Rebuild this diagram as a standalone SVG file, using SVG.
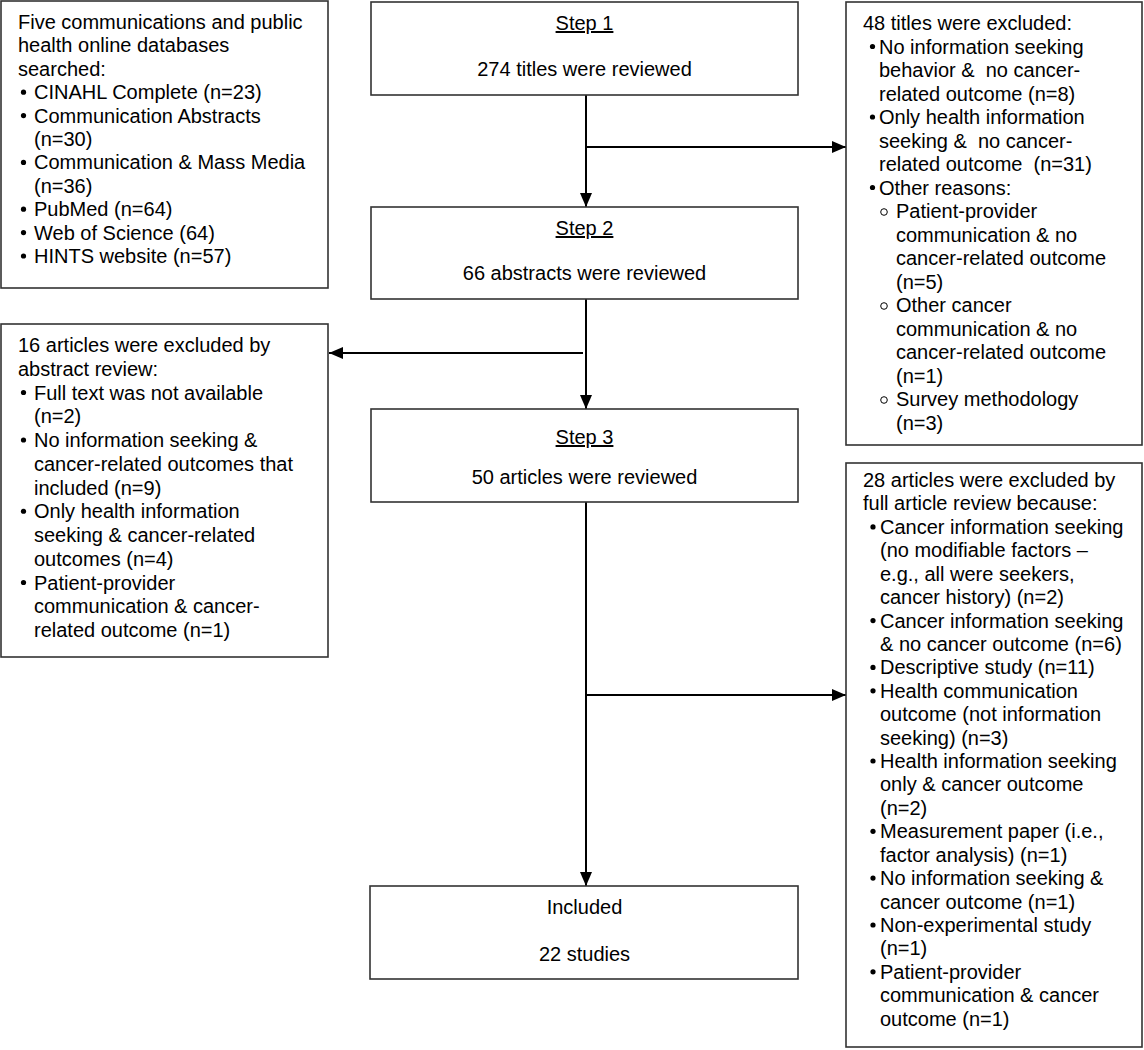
<svg xmlns="http://www.w3.org/2000/svg" width="1144" height="1050" viewBox="0 0 1144 1050">
<defs>
<style>
.box{fill:#fff;stroke:#333;stroke-width:1.6}
.t{font-family:"Liberation Sans",Arial,sans-serif;font-size:20px;fill:#000;white-space:pre}
.c{text-anchor:middle}
.u{text-decoration:underline}
.b{fill:#000}
.o{fill:none;stroke:#000;stroke-width:1}
.ln{stroke:#000;stroke-width:2;fill:none}
</style>
<marker id="ah" markerUnits="userSpaceOnUse" markerWidth="14" markerHeight="14" viewBox="0 0 14 12" refX="14" refY="6" orient="auto">
<path d="M0,0 L14,6 L0,12 Z" fill="#000"/>
</marker>
</defs>
<rect width="1144" height="1050" fill="#fff"/>

<g id="connectors">
<line class="ln" x1="586" y1="95" x2="586" y2="207" marker-end="url(#ah)"/>
<line class="ln" x1="586" y1="147" x2="846" y2="147" marker-end="url(#ah)"/>
<line class="ln" x1="586" y1="299" x2="586" y2="409" marker-end="url(#ah)"/>
<line class="ln" x1="583" y1="353" x2="329" y2="353" marker-end="url(#ah)"/>
<line class="ln" x1="586" y1="502" x2="586" y2="886" marker-end="url(#ah)"/>
<line class="ln" x1="586" y1="695" x2="846" y2="695" marker-end="url(#ah)"/>
</g>

<g id="databases">
<rect class="box" x="1" y="1" width="327" height="287"/>
<text class="t" x="18" y="29">Five communications and public</text>
<text class="t" x="18" y="52.4">health online databases</text>
<text class="t" x="18" y="75.8">searched:</text>
<circle class="b" cx="23.5" cy="92.2" r="2.6"/><text class="t" x="34" y="99.2">CINAHL Complete (n=23)</text>
<circle class="b" cx="23.5" cy="115.6" r="2.6"/><text class="t" x="34" y="122.6">Communication Abstracts</text>
<text class="t" x="34" y="146">(n=30)</text>
<circle class="b" cx="23.5" cy="162.4" r="2.6"/><text class="t" x="34" y="169.4">Communication &amp; Mass Media</text>
<text class="t" x="34" y="192.8">(n=36)</text>
<circle class="b" cx="23.5" cy="209.2" r="2.6"/><text class="t" x="34" y="216.2">PubMed (n=64)</text>
<circle class="b" cx="23.5" cy="232.6" r="2.6"/><text class="t" x="34" y="239.6">Web of Science (64)</text>
<circle class="b" cx="23.5" cy="256" r="2.6"/><text class="t" x="34" y="263">HINTS website (n=57)</text>
</g>

<g id="step1">
<rect class="box" x="371" y="2" width="427" height="93"/>
<text class="t c u" x="584.5" y="30">Step 1</text>
<text class="t c" x="584.5" y="76">274 titles were reviewed</text>
</g>

<g id="step2">
<rect class="box" x="371" y="207" width="427" height="92"/>
<text class="t c u" x="584.5" y="235">Step 2</text>
<text class="t c" x="584.5" y="280">66 abstracts were reviewed</text>
</g>

<g id="step3">
<rect class="box" x="371" y="409" width="427" height="93"/>
<text class="t c u" x="584.5" y="444">Step 3</text>
<text class="t c" x="584.5" y="484">50 articles were reviewed</text>
</g>

<g id="included">
<rect class="box" x="370" y="886" width="428" height="93"/>
<text class="t c" x="584.5" y="914">Included</text>
<text class="t c" x="584.5" y="961">22 studies</text>
</g>

<g id="titles-excluded">
<rect class="box" x="846" y="2" width="296" height="443"/>
<text class="t" x="863" y="30">48 titles were excluded:</text>
<circle class="b" cx="872.5" cy="46.5" r="2.6"/><text class="t" x="879" y="53.5">No information seeking</text>
<text class="t" x="879" y="77">behavior &amp;  no cancer-</text>
<text class="t" x="879" y="100.5">related outcome (n=8)</text>
<circle class="b" cx="872.5" cy="117" r="2.6"/><text class="t" x="879" y="124">Only health information</text>
<text class="t" x="879" y="147.5">seeking &amp;  no cancer-</text>
<text class="t" x="879" y="171">related outcome  (n=31)</text>
<circle class="b" cx="872.5" cy="187.5" r="2.6"/><text class="t" x="879" y="194.5">Other reasons:</text>
<circle class="o" cx="884" cy="212" r="3.3"/><text class="t" x="896" y="218">Patient-provider</text>
<text class="t" x="896" y="241.5">communication &amp; no</text>
<text class="t" x="896" y="265">cancer-related outcome</text>
<text class="t" x="896" y="288.5">(n=5)</text>
<circle class="o" cx="884" cy="306" r="3.3"/><text class="t" x="896" y="312">Other cancer</text>
<text class="t" x="896" y="335.5">communication &amp; no</text>
<text class="t" x="896" y="359">cancer-related outcome</text>
<text class="t" x="896" y="382.5">(n=1)</text>
<circle class="o" cx="884" cy="400" r="3.3"/><text class="t" x="896" y="406">Survey methodology</text>
<text class="t" x="896" y="429.5">(n=3)</text>
</g>

<g id="abstracts-excluded">
<rect class="box" x="1" y="324" width="327" height="333"/>
<text class="t" x="18" y="352">16 articles were excluded by</text>
<text class="t" x="18" y="375.75">abstract review:</text>
<circle class="b" cx="23.5" cy="392.5" r="2.6"/><text class="t" x="34" y="399.5">Full text was not available</text>
<text class="t" x="34" y="423.25">(n=2)</text>
<circle class="b" cx="23.5" cy="440" r="2.6"/><text class="t" x="34" y="447">No information seeking &amp;</text>
<text class="t" x="34" y="470.75">cancer-related outcomes that</text>
<text class="t" x="34" y="494.5">included (n=9)</text>
<circle class="b" cx="23.5" cy="511.25" r="2.6"/><text class="t" x="34" y="518.25">Only health information</text>
<text class="t" x="34" y="542">seeking &amp; cancer-related</text>
<text class="t" x="34" y="565.75">outcomes (n=4)</text>
<circle class="b" cx="23.5" cy="582.5" r="2.6"/><text class="t" x="34" y="589.5">Patient-provider</text>
<text class="t" x="34" y="613.25">communication &amp; cancer-</text>
<text class="t" x="34" y="637">related outcome (n=1)</text>
</g>

<g id="articles-excluded">
<rect class="box" x="846" y="463" width="296" height="584"/>
<text class="t" x="863" y="487">28 articles were excluded by</text>
<text class="t" x="863" y="510.4">full article review because:</text>
<circle class="b" cx="873" cy="526.9" r="2.6"/><text class="t" x="880" y="533.9">Cancer information seeking</text>
<text class="t" x="880" y="557.3">(no modifiable factors –</text>
<text class="t" x="880" y="580.7">e.g., all were seekers,</text>
<text class="t" x="880" y="604.1">cancer history) (n=2)</text>
<circle class="b" cx="873" cy="620.6" r="2.6"/><text class="t" x="880" y="627.6">Cancer information seeking</text>
<text class="t" x="880" y="651">&amp; no cancer outcome (n=6)</text>
<circle class="b" cx="873" cy="667.4" r="2.6"/><text class="t" x="880" y="674.4">Descriptive study (n=11)</text>
<circle class="b" cx="873" cy="690.8" r="2.6"/><text class="t" x="880" y="697.8">Health communication</text>
<text class="t" x="880" y="721.2">outcome (not information</text>
<text class="t" x="880" y="744.6">seeking) (n=3)</text>
<circle class="b" cx="873" cy="761" r="2.6"/><text class="t" x="880" y="768">Health information seeking</text>
<text class="t" x="880" y="791.4">only &amp; cancer outcome</text>
<text class="t" x="880" y="814.8">(n=2)</text>
<circle class="b" cx="873" cy="831.3" r="2.6"/><text class="t" x="880" y="838.3">Measurement paper (i.e.,</text>
<text class="t" x="880" y="861.7">factor analysis) (n=1)</text>
<circle class="b" cx="873" cy="878.1" r="2.6"/><text class="t" x="880" y="885.1">No information seeking &amp;</text>
<text class="t" x="880" y="908.5">cancer outcome (n=1)</text>
<circle class="b" cx="873" cy="925" r="2.6"/><text class="t" x="880" y="932">Non-experimental study</text>
<text class="t" x="880" y="955.4">(n=1)</text>
<circle class="b" cx="873" cy="971.8" r="2.6"/><text class="t" x="880" y="978.8">Patient-provider</text>
<text class="t" x="880" y="1002.2">communication &amp; cancer</text>
<text class="t" x="880" y="1025.6">outcome (n=1)</text>
</g>
</svg>
